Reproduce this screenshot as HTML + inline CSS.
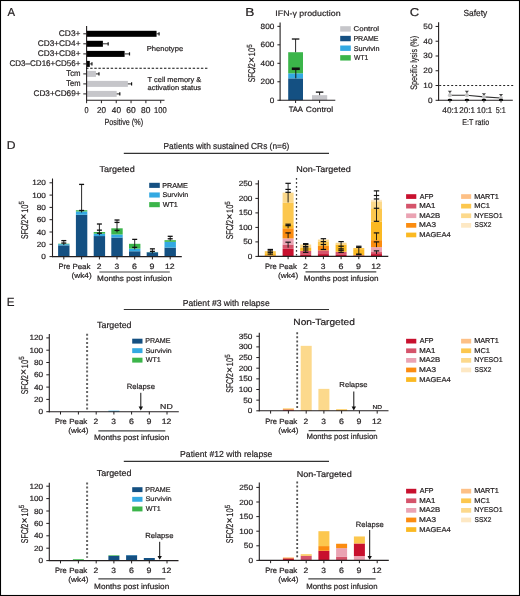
<!DOCTYPE html>
<html><head><meta charset="utf-8"><title>Figure</title>
<style>
html,body{margin:0;padding:0;background:#fff;}
body{width:520px;height:596px;overflow:hidden;}
svg{display:block;font-family:"Liberation Sans", sans-serif;will-change:transform;}
text{stroke:#231f20;stroke-width:0.2px;text-rendering:geometricPrecision;}
</style></head>
<body>
<svg width="520" height="596" viewBox="0 0 520 596">
<rect x="0" y="0" width="520" height="596" fill="#fff"/>
<text x="7.48" y="15.5" font-size="11.63" textLength="7.56" lengthAdjust="spacingAndGlyphs" fill="#231f20">A</text>
<text x="245.17" y="15.6" font-size="11.63" textLength="9.15" lengthAdjust="spacingAndGlyphs" fill="#231f20">B</text>
<text x="409.85" y="16.1" font-size="11.32" textLength="9.45" lengthAdjust="spacingAndGlyphs" fill="#231f20">C</text>
<text x="6.8" y="149.1" font-size="11.34" textLength="8.78" lengthAdjust="spacingAndGlyphs" fill="#231f20">D</text>
<text x="6.85" y="305.9" font-size="11.77" textLength="7.75" lengthAdjust="spacingAndGlyphs" fill="#231f20">E</text>
<rect x="86.6" y="30.8" width="69.95" height="6" fill="#000"/>
<line x1="156.55" y1="33.8" x2="159.07" y2="33.8" stroke="#111" stroke-width="0.9"/>
<line x1="159.07" y1="32.2" x2="159.07" y2="35.4" stroke="#111" stroke-width="1.2"/>
<line x1="83.3" y1="33.8" x2="86.6" y2="33.8" stroke="#231f20" stroke-width="1"/>
<text x="58.78" y="36.3" font-size="8.17" textLength="21.75" lengthAdjust="spacingAndGlyphs" fill="#231f20">CD3+</text>
<rect x="86.6" y="40.8" width="16.3" height="6" fill="#000"/>
<line x1="102.9" y1="43.8" x2="108.16" y2="43.8" stroke="#111" stroke-width="0.9"/>
<line x1="108.16" y1="42.2" x2="108.16" y2="45.4" stroke="#111" stroke-width="1.2"/>
<line x1="83.3" y1="43.8" x2="86.6" y2="43.8" stroke="#231f20" stroke-width="1"/>
<text x="37.69" y="46.3" font-size="8.17" textLength="42.84" lengthAdjust="spacingAndGlyphs" fill="#231f20">CD3+CD4+</text>
<rect x="86.6" y="50.9" width="38.01" height="6" fill="#000"/>
<line x1="124.61" y1="53.9" x2="129.5" y2="53.9" stroke="#111" stroke-width="0.9"/>
<line x1="129.5" y1="52.3" x2="129.5" y2="55.5" stroke="#111" stroke-width="1.2"/>
<line x1="83.3" y1="53.9" x2="86.6" y2="53.9" stroke="#231f20" stroke-width="1"/>
<text x="37.69" y="56.1" font-size="8.17" textLength="42.84" lengthAdjust="spacingAndGlyphs" fill="#231f20">CD3+CD8+</text>
<rect x="86.6" y="60.9" width="3.19" height="6" fill="#000"/>
<line x1="89.79" y1="63.9" x2="91.94" y2="63.9" stroke="#111" stroke-width="0.9"/>
<line x1="91.94" y1="62.3" x2="91.94" y2="65.5" stroke="#111" stroke-width="1.2"/>
<line x1="83.3" y1="63.9" x2="86.6" y2="63.9" stroke="#231f20" stroke-width="1"/>
<text x="9.5" y="66.3" font-size="8.17" textLength="71" lengthAdjust="spacingAndGlyphs" fill="#231f20">CD3–CD16+CD56+</text>
<rect x="86.6" y="70.9" width="9.34" height="6" fill="#c6c6ca"/>
<line x1="95.94" y1="73.9" x2="98.97" y2="73.9" stroke="#111" stroke-width="0.9"/>
<line x1="98.97" y1="72.3" x2="98.97" y2="75.5" stroke="#111" stroke-width="1.2"/>
<line x1="83.3" y1="73.9" x2="86.6" y2="73.9" stroke="#231f20" stroke-width="1"/>
<text x="66.33" y="76.1" font-size="8.28" textLength="14.28" lengthAdjust="spacingAndGlyphs" fill="#231f20">Tcm</text>
<rect x="86.6" y="80.9" width="41.27" height="6" fill="#c6c6ca"/>
<line x1="127.87" y1="83.9" x2="131.58" y2="83.9" stroke="#111" stroke-width="0.9"/>
<line x1="131.58" y1="82.3" x2="131.58" y2="85.5" stroke="#111" stroke-width="1.2"/>
<line x1="83.3" y1="83.9" x2="86.6" y2="83.9" stroke="#231f20" stroke-width="1"/>
<text x="66.33" y="86.1" font-size="8.28" textLength="14.26" lengthAdjust="spacingAndGlyphs" fill="#231f20">Tem</text>
<rect x="86.6" y="90.9" width="30.08" height="6" fill="#c6c6ca"/>
<line x1="116.68" y1="93.9" x2="119.8" y2="93.9" stroke="#111" stroke-width="0.9"/>
<line x1="119.8" y1="92.3" x2="119.8" y2="95.5" stroke="#111" stroke-width="1.2"/>
<line x1="83.3" y1="93.9" x2="86.6" y2="93.9" stroke="#231f20" stroke-width="1"/>
<text x="33.49" y="96" font-size="8.17" textLength="47.01" lengthAdjust="spacingAndGlyphs" fill="#231f20">CD3+CD69+</text>
<line x1="86.6" y1="26" x2="86.6" y2="100.8" stroke="#231f20" stroke-width="1.1"/>
<line x1="86.1" y1="100.3" x2="164.5" y2="100.3" stroke="#231f20" stroke-width="1.1"/>
<line x1="86.6" y1="100.3" x2="86.6" y2="103.2" stroke="#231f20" stroke-width="1"/>
<text x="84.51" y="112.5" font-size="8.45" textLength="4.07" lengthAdjust="spacingAndGlyphs" fill="#231f20">0</text>
<line x1="101.42" y1="100.3" x2="101.42" y2="103.2" stroke="#231f20" stroke-width="1"/>
<text x="96.89" y="112.5" font-size="8.45" textLength="9.02" lengthAdjust="spacingAndGlyphs" fill="#231f20">20</text>
<line x1="116.24" y1="100.3" x2="116.24" y2="103.2" stroke="#231f20" stroke-width="1"/>
<text x="111.82" y="112.5" font-size="8.45" textLength="9.2" lengthAdjust="spacingAndGlyphs" fill="#231f20">40</text>
<line x1="131.06" y1="100.3" x2="131.06" y2="103.2" stroke="#231f20" stroke-width="1"/>
<text x="126.28" y="112.5" font-size="8.45" textLength="9.45" lengthAdjust="spacingAndGlyphs" fill="#231f20">60</text>
<line x1="145.88" y1="100.3" x2="145.88" y2="103.2" stroke="#231f20" stroke-width="1"/>
<text x="141.03" y="112.5" font-size="8.45" textLength="9.4" lengthAdjust="spacingAndGlyphs" fill="#231f20">80</text>
<line x1="160.7" y1="100.3" x2="160.7" y2="103.2" stroke="#231f20" stroke-width="1"/>
<text x="154.12" y="112.5" font-size="8.45" textLength="12.67" lengthAdjust="spacingAndGlyphs" fill="#231f20">100</text>
<text x="104.51" y="124.6" font-size="8.84" textLength="38.54" lengthAdjust="spacingAndGlyphs" fill="#231f20">Positive (%)</text>
<text x="146.78" y="50.5" font-size="7.18" textLength="36.36" lengthAdjust="spacingAndGlyphs" fill="#231f20">Phenotype</text>
<text x="147.64" y="82.1" font-size="7.18" textLength="53.68" lengthAdjust="spacingAndGlyphs" fill="#231f20">T cell memory &amp;</text>
<text x="147.49" y="90.2" font-size="7.18" textLength="53.59" lengthAdjust="spacingAndGlyphs" fill="#231f20">activation status</text>
<line x1="86.1" y1="68.3" x2="207.8" y2="68.3" stroke="#111" stroke-width="1.1" stroke-dasharray="2.4 1.7"/>
<text x="275.39" y="15.7" font-size="8.01" textLength="65.17" lengthAdjust="spacingAndGlyphs" fill="#231f20">IFN-γ production</text>
<line x1="277.4" y1="100.25" x2="280.1" y2="100.25" stroke="#231f20" stroke-width="1"/>
<text x="269.75" y="102.75" font-size="7.6" textLength="4.56" lengthAdjust="spacingAndGlyphs" fill="#231f20">0</text>
<line x1="277.4" y1="81.78" x2="280.1" y2="81.78" stroke="#231f20" stroke-width="1"/>
<text x="260.62" y="84.28" font-size="7.6" textLength="13.69" lengthAdjust="spacingAndGlyphs" fill="#231f20">200</text>
<line x1="277.4" y1="63.31" x2="280.1" y2="63.31" stroke="#231f20" stroke-width="1"/>
<text x="260.62" y="65.81" font-size="7.6" textLength="13.69" lengthAdjust="spacingAndGlyphs" fill="#231f20">400</text>
<line x1="277.4" y1="44.84" x2="280.1" y2="44.84" stroke="#231f20" stroke-width="1"/>
<text x="260.62" y="47.34" font-size="7.6" textLength="13.69" lengthAdjust="spacingAndGlyphs" fill="#231f20">600</text>
<line x1="277.4" y1="26.37" x2="280.1" y2="26.37" stroke="#231f20" stroke-width="1"/>
<text x="260.62" y="28.87" font-size="7.6" textLength="13.69" lengthAdjust="spacingAndGlyphs" fill="#231f20">800</text>
<text transform="translate(255 82) rotate(-90)" x="-0.31" y="0" font-size="9.8" textLength="19.15" lengthAdjust="spacingAndGlyphs" fill="#231f20">SFC<tspan stroke-width="0.5">/</tspan>2</text>
<text transform="translate(254.7 62.3) rotate(-90)" x="-0.74" y="0" font-size="10.6" textLength="6.18" lengthAdjust="spacingAndGlyphs" fill="#231f20">×</text>
<text transform="translate(255 55.6) rotate(-90)" x="-0.56" y="0" font-size="9.6" textLength="8.25" lengthAdjust="spacingAndGlyphs" fill="#231f20">10</text>
<text transform="translate(251.5 47.6) rotate(-90)" x="-0.25" y="0" font-size="7.4" textLength="3.52" lengthAdjust="spacingAndGlyphs" fill="#231f20">5</text>
<rect x="288.2" y="78.36" width="14.8" height="21.89" fill="#145082"/>
<rect x="288.2" y="73.28" width="14.8" height="5.08" fill="#33a9e2"/>
<rect x="288.2" y="52.23" width="14.8" height="21.06" fill="#3bb54a"/>
<line x1="295.6" y1="39.02" x2="295.6" y2="52.23" stroke="#111" stroke-width="0.9"/>
<line x1="291.85" y1="39.02" x2="299.35" y2="39.02" stroke="#111" stroke-width="1.3"/>
<line x1="295.8" y1="68.76" x2="295.8" y2="78.36" stroke="#111" stroke-width="1"/>
<line x1="291.8" y1="68.76" x2="299.8" y2="68.76" stroke="#111" stroke-width="2.6"/>
<rect x="312" y="95.17" width="15.2" height="5.08" fill="#c6c6ca"/>
<line x1="319.6" y1="92.12" x2="319.6" y2="95.17" stroke="#111" stroke-width="0.9"/>
<line x1="315.85" y1="92.12" x2="323.35" y2="92.12" stroke="#111" stroke-width="1.3"/>
<line x1="280.1" y1="22.5" x2="280.1" y2="100.75" stroke="#231f20" stroke-width="1.1"/>
<line x1="279.6" y1="100.25" x2="335.3" y2="100.25" stroke="#231f20" stroke-width="1.1"/>
<line x1="295.6" y1="100.25" x2="295.6" y2="103" stroke="#231f20" stroke-width="1"/>
<line x1="319.6" y1="100.25" x2="319.6" y2="103" stroke="#231f20" stroke-width="1"/>
<text x="288.63" y="112.3" font-size="7.85" textLength="14.39" lengthAdjust="spacingAndGlyphs" fill="#231f20">TAA</text>
<text x="305.88" y="112.3" font-size="7.73" textLength="27.28" lengthAdjust="spacingAndGlyphs" fill="#231f20">Control</text>
<rect x="340.2" y="26.2" width="10.6" height="5.4" fill="#c6c6ca"/>
<text x="353.61" y="31.2" font-size="6.91" textLength="25.41" lengthAdjust="spacingAndGlyphs" fill="#231f20">Control</text>
<rect x="340.2" y="35.85" width="10.6" height="5.4" fill="#145082"/>
<text x="353.42" y="40.85" font-size="7.27" textLength="25.08" lengthAdjust="spacingAndGlyphs" fill="#231f20">PRAME</text>
<rect x="340.2" y="45.5" width="10.6" height="5.4" fill="#33a9e2"/>
<text x="353.67" y="50.5" font-size="6.91" textLength="25.8" lengthAdjust="spacingAndGlyphs" fill="#231f20">Survivin</text>
<rect x="340.2" y="55.15" width="10.6" height="5.4" fill="#3bb54a"/>
<text x="353.97" y="60.15" font-size="7.27" textLength="14.36" lengthAdjust="spacingAndGlyphs" fill="#231f20">WT1</text>
<text x="463.41" y="15.7" font-size="8.84" textLength="23.79" lengthAdjust="spacingAndGlyphs" fill="#231f20">Safety</text>
<line x1="435.6" y1="100.3" x2="438.6" y2="100.3" stroke="#231f20" stroke-width="1"/>
<text x="427.95" y="102.8" font-size="7.6" textLength="4.56" lengthAdjust="spacingAndGlyphs" fill="#231f20">0</text>
<line x1="435.6" y1="85.53" x2="438.6" y2="85.53" stroke="#231f20" stroke-width="1"/>
<text x="423.38" y="88.03" font-size="7.6" textLength="9.13" lengthAdjust="spacingAndGlyphs" fill="#231f20">10</text>
<line x1="435.6" y1="70.76" x2="438.6" y2="70.76" stroke="#231f20" stroke-width="1"/>
<text x="423.38" y="73.26" font-size="7.6" textLength="9.13" lengthAdjust="spacingAndGlyphs" fill="#231f20">20</text>
<line x1="435.6" y1="55.99" x2="438.6" y2="55.99" stroke="#231f20" stroke-width="1"/>
<text x="423.38" y="58.49" font-size="7.6" textLength="9.13" lengthAdjust="spacingAndGlyphs" fill="#231f20">30</text>
<line x1="435.6" y1="41.22" x2="438.6" y2="41.22" stroke="#231f20" stroke-width="1"/>
<text x="423.38" y="43.72" font-size="7.6" textLength="9.13" lengthAdjust="spacingAndGlyphs" fill="#231f20">40</text>
<line x1="435.6" y1="26.45" x2="438.6" y2="26.45" stroke="#231f20" stroke-width="1"/>
<text x="423.38" y="28.95" font-size="7.6" textLength="9.13" lengthAdjust="spacingAndGlyphs" fill="#231f20">50</text>
<text transform="translate(417.4 89.4) rotate(-90)" x="-0.33" y="0" font-size="9.39" textLength="53.77" lengthAdjust="spacingAndGlyphs" fill="#231f20">Specific lysis (%)</text>
<line x1="439.2" y1="85.53" x2="513.5" y2="85.53" stroke="#222" stroke-width="1" stroke-dasharray="2 2"/>
<polyline points="449.9,95.28 466.9,95.28 483.9,96.9 501,97.94" fill="none" stroke="#333" stroke-width="1.1"/>
<line x1="449.9" y1="95.28" x2="449.9" y2="91.29" stroke="#888" stroke-width="0.9"/>
<path d="M447.8 90.69L452 90.69L449.9 92.89Z" fill="#444"/>
<circle cx="449.9" cy="95.28" r="2.0" fill="#c4c4c4"/>
<line x1="466.9" y1="95.28" x2="466.9" y2="91.29" stroke="#888" stroke-width="0.9"/>
<path d="M464.8 90.69L469 90.69L466.9 92.89Z" fill="#444"/>
<circle cx="466.9" cy="95.28" r="2.0" fill="#c4c4c4"/>
<line x1="483.9" y1="96.9" x2="483.9" y2="93.95" stroke="#888" stroke-width="0.9"/>
<path d="M481.8 93.35L486 93.35L483.9 95.55Z" fill="#444"/>
<circle cx="483.9" cy="96.9" r="2.0" fill="#c4c4c4"/>
<line x1="501" y1="97.94" x2="501" y2="94.54" stroke="#888" stroke-width="0.9"/>
<path d="M498.9 93.94L503.1 93.94L501 96.14Z" fill="#444"/>
<circle cx="501" cy="97.94" r="2.0" fill="#c4c4c4"/>
<line x1="438.6" y1="22.2" x2="438.6" y2="100.8" stroke="#231f20" stroke-width="1.1"/>
<line x1="438.1" y1="100.3" x2="512.8" y2="100.3" stroke="#231f20" stroke-width="1.1"/>
<ellipse cx="449.9" cy="100" rx="2.2" ry="1.2" fill="#000"/>
<line x1="449.9" y1="100.3" x2="449.9" y2="102.7" stroke="#555" stroke-width="1"/>
<text x="442.32" y="113.1" font-size="8.31" textLength="16.08" lengthAdjust="spacingAndGlyphs" fill="#231f20">40:1</text>
<ellipse cx="466.9" cy="100" rx="2.2" ry="1.2" fill="#000"/>
<line x1="466.9" y1="100.3" x2="466.9" y2="102.7" stroke="#555" stroke-width="1"/>
<text x="459.3" y="113.1" font-size="8.31" textLength="15.69" lengthAdjust="spacingAndGlyphs" fill="#231f20">20:1</text>
<ellipse cx="483.9" cy="100" rx="2.2" ry="1.2" fill="#000"/>
<line x1="483.9" y1="100.3" x2="483.9" y2="102.7" stroke="#555" stroke-width="1"/>
<text x="476.8" y="113.1" font-size="8.31" textLength="15.49" lengthAdjust="spacingAndGlyphs" fill="#231f20">10:1</text>
<ellipse cx="501" cy="100" rx="2.2" ry="1.2" fill="#000"/>
<line x1="501" y1="100.3" x2="501" y2="102.7" stroke="#555" stroke-width="1"/>
<text x="495.81" y="113.1" font-size="8.43" textLength="9.93" lengthAdjust="spacingAndGlyphs" fill="#231f20">5:1</text>
<text x="462.32" y="124.9" font-size="8.29" textLength="26.79" lengthAdjust="spacingAndGlyphs" fill="#231f20">E:T ratio</text>
<line x1="123.8" y1="153.4" x2="329" y2="153.4" stroke="#333" stroke-width="1.2"/>
<text x="163.52" y="149.2" font-size="8.7" textLength="125.8" lengthAdjust="spacingAndGlyphs" fill="#231f20">Patients with sustained CRs (n=6)</text>
<line x1="123.8" y1="309.5" x2="329" y2="309.5" stroke="#333" stroke-width="1.2"/>
<text x="182.8" y="306.1" font-size="8.7" textLength="86.88" lengthAdjust="spacingAndGlyphs" fill="#231f20">Patient #3 with relapse</text>
<line x1="123.8" y1="461.3" x2="329" y2="461.3" stroke="#333" stroke-width="1.2"/>
<text x="180.09" y="457.3" font-size="8.7" textLength="92.28" lengthAdjust="spacingAndGlyphs" fill="#231f20">Patient #12 with relapse</text>
<line x1="49.5" y1="256.6" x2="52.5" y2="256.6" stroke="#231f20" stroke-width="1"/>
<text x="41.33" y="259.1" font-size="7.5" textLength="4.59" lengthAdjust="spacingAndGlyphs" fill="#231f20">0</text>
<line x1="49.5" y1="244.3" x2="52.5" y2="244.3" stroke="#231f20" stroke-width="1"/>
<text x="36.74" y="246.8" font-size="7.5" textLength="9.18" lengthAdjust="spacingAndGlyphs" fill="#231f20">20</text>
<line x1="49.5" y1="232" x2="52.5" y2="232" stroke="#231f20" stroke-width="1"/>
<text x="36.74" y="234.5" font-size="7.5" textLength="9.18" lengthAdjust="spacingAndGlyphs" fill="#231f20">40</text>
<line x1="49.5" y1="219.7" x2="52.5" y2="219.7" stroke="#231f20" stroke-width="1"/>
<text x="36.74" y="222.2" font-size="7.5" textLength="9.18" lengthAdjust="spacingAndGlyphs" fill="#231f20">60</text>
<line x1="49.5" y1="207.4" x2="52.5" y2="207.4" stroke="#231f20" stroke-width="1"/>
<text x="36.74" y="209.9" font-size="7.5" textLength="9.18" lengthAdjust="spacingAndGlyphs" fill="#231f20">80</text>
<line x1="49.5" y1="195.1" x2="52.5" y2="195.1" stroke="#231f20" stroke-width="1"/>
<text x="32.15" y="197.6" font-size="7.5" textLength="13.76" lengthAdjust="spacingAndGlyphs" fill="#231f20">100</text>
<line x1="49.5" y1="182.8" x2="52.5" y2="182.8" stroke="#231f20" stroke-width="1"/>
<text x="32.15" y="185.3" font-size="7.5" textLength="13.76" lengthAdjust="spacingAndGlyphs" fill="#231f20">120</text>
<rect x="58.1" y="245.35" width="11.4" height="11.25" fill="#145082"/>
<rect x="58.1" y="244.18" width="11.4" height="1.17" fill="#33a9e2"/>
<rect x="58.1" y="243.69" width="11.4" height="0.49" fill="#3bb54a"/>
<rect x="75.9" y="214.78" width="11.4" height="41.82" fill="#145082"/>
<rect x="75.9" y="211.46" width="11.4" height="3.32" fill="#33a9e2"/>
<rect x="75.9" y="210.23" width="11.4" height="1.23" fill="#3bb54a"/>
<rect x="93.7" y="236.06" width="11.4" height="20.54" fill="#145082"/>
<rect x="93.7" y="233.66" width="11.4" height="2.4" fill="#33a9e2"/>
<rect x="93.7" y="232" width="11.4" height="1.66" fill="#3bb54a"/>
<rect x="111.3" y="237.54" width="11.4" height="19.07" fill="#145082"/>
<rect x="111.3" y="234.46" width="11.4" height="3.08" fill="#33a9e2"/>
<rect x="111.3" y="228.31" width="11.4" height="6.15" fill="#3bb54a"/>
<rect x="129" y="251.25" width="11.4" height="5.35" fill="#145082"/>
<rect x="129" y="248.61" width="11.4" height="2.64" fill="#33a9e2"/>
<rect x="129" y="243.81" width="11.4" height="4.8" fill="#3bb54a"/>
<rect x="146.7" y="252.3" width="11.4" height="4.3" fill="#145082"/>
<rect x="146.7" y="252.11" width="11.4" height="0.18" fill="#33a9e2"/>
<rect x="146.7" y="251.99" width="11.4" height="0.12" fill="#3bb54a"/>
<rect x="164.5" y="247.62" width="11.4" height="8.98" fill="#145082"/>
<rect x="164.5" y="241.84" width="11.4" height="5.78" fill="#33a9e2"/>
<rect x="164.5" y="240.18" width="11.4" height="1.66" fill="#3bb54a"/>
<line x1="52.5" y1="178.5" x2="52.5" y2="257.1" stroke="#231f20" stroke-width="1.1"/>
<line x1="52" y1="256.6" x2="181.8" y2="256.6" stroke="#231f20" stroke-width="1.1"/>
<line x1="63.8" y1="256.6" x2="63.8" y2="259.4" stroke="#231f20" stroke-width="1"/>
<line x1="81.6" y1="256.6" x2="81.6" y2="259.4" stroke="#231f20" stroke-width="1"/>
<line x1="99.4" y1="256.6" x2="99.4" y2="259.4" stroke="#231f20" stroke-width="1"/>
<line x1="117" y1="256.6" x2="117" y2="259.4" stroke="#231f20" stroke-width="1"/>
<line x1="134.7" y1="256.6" x2="134.7" y2="259.4" stroke="#231f20" stroke-width="1"/>
<line x1="152.4" y1="256.6" x2="152.4" y2="259.4" stroke="#231f20" stroke-width="1"/>
<line x1="170.2" y1="256.6" x2="170.2" y2="259.4" stroke="#231f20" stroke-width="1"/>
<line x1="63.8" y1="240.61" x2="63.8" y2="245.07" stroke="#111" stroke-width="0.9"/>
<line x1="61.3" y1="240.61" x2="66.3" y2="240.61" stroke="#111" stroke-width="1.3"/>
<line x1="61.3" y1="243.07" x2="66.3" y2="243.07" stroke="#111" stroke-width="1.3"/>
<line x1="81.6" y1="184.4" x2="81.6" y2="212.48" stroke="#111" stroke-width="0.9"/>
<line x1="79.1" y1="184.4" x2="84.1" y2="184.4" stroke="#111" stroke-width="1.3"/>
<line x1="79.1" y1="210.48" x2="84.1" y2="210.48" stroke="#111" stroke-width="1.3"/>
<line x1="99.4" y1="224.01" x2="99.4" y2="235.23" stroke="#111" stroke-width="0.9"/>
<line x1="96.9" y1="224.01" x2="101.9" y2="224.01" stroke="#111" stroke-width="1.3"/>
<line x1="96.9" y1="230.16" x2="101.9" y2="230.16" stroke="#111" stroke-width="1.3"/>
<line x1="96.9" y1="233.23" x2="101.9" y2="233.23" stroke="#111" stroke-width="1.3"/>
<line x1="117" y1="220.01" x2="117" y2="232.4" stroke="#111" stroke-width="0.9"/>
<line x1="114.5" y1="220.01" x2="119.5" y2="220.01" stroke="#111" stroke-width="1.3"/>
<line x1="114.5" y1="222.41" x2="119.5" y2="222.41" stroke="#111" stroke-width="1.3"/>
<line x1="114.5" y1="230.4" x2="119.5" y2="230.4" stroke="#111" stroke-width="1.3"/>
<line x1="134.7" y1="239.38" x2="134.7" y2="249.38" stroke="#111" stroke-width="0.9"/>
<line x1="132.2" y1="239.38" x2="137.2" y2="239.38" stroke="#111" stroke-width="1.3"/>
<line x1="132.2" y1="247.38" x2="137.2" y2="247.38" stroke="#111" stroke-width="1.3"/>
<line x1="152.4" y1="248.85" x2="152.4" y2="253.37" stroke="#111" stroke-width="0.9"/>
<line x1="149.9" y1="248.85" x2="154.9" y2="248.85" stroke="#111" stroke-width="1.3"/>
<line x1="149.9" y1="251.37" x2="154.9" y2="251.37" stroke="#111" stroke-width="1.3"/>
<line x1="170.2" y1="236.31" x2="170.2" y2="240.77" stroke="#111" stroke-width="0.9"/>
<line x1="167.7" y1="236.31" x2="172.7" y2="236.31" stroke="#111" stroke-width="1.3"/>
<line x1="167.7" y1="238.77" x2="172.7" y2="238.77" stroke="#111" stroke-width="1.3"/>
<text transform="translate(27.7 238.8) rotate(-90)" x="-0.31" y="0" font-size="9.8" textLength="19.36" lengthAdjust="spacingAndGlyphs" fill="#231f20">SFC<tspan stroke-width="0.5">/</tspan>2</text>
<text transform="translate(27.4 218.9) rotate(-90)" x="-0.74" y="0" font-size="10.6" textLength="6.18" lengthAdjust="spacingAndGlyphs" fill="#231f20">×</text>
<text transform="translate(27.7 212.2) rotate(-90)" x="-0.56" y="0" font-size="9.6" textLength="8.25" lengthAdjust="spacingAndGlyphs" fill="#231f20">10</text>
<text transform="translate(24.2 204.2) rotate(-90)" x="-0.25" y="0" font-size="7.4" textLength="3.52" lengthAdjust="spacingAndGlyphs" fill="#231f20">5</text>
<text x="99.5" y="172.2" font-size="8.56" textLength="35.17" lengthAdjust="spacingAndGlyphs" fill="#231f20">Targeted</text>
<rect x="149.2" y="182.8" width="10.6" height="5.1" fill="#145082"/>
<text x="162.21" y="187.6" font-size="7.12" textLength="25.59" lengthAdjust="spacingAndGlyphs" fill="#231f20">PRAME</text>
<rect x="149.2" y="192.45" width="10.6" height="5.1" fill="#33a9e2"/>
<text x="162.46" y="197.25" font-size="6.77" textLength="25.91" lengthAdjust="spacingAndGlyphs" fill="#231f20">Survivin</text>
<rect x="149.2" y="202.1" width="10.6" height="5.1" fill="#3bb54a"/>
<text x="162.77" y="206.9" font-size="7.12" textLength="15.08" lengthAdjust="spacingAndGlyphs" fill="#231f20">WT1</text>
<text x="58.38" y="268.9" font-size="7.85" textLength="11.75" lengthAdjust="spacingAndGlyphs" fill="#231f20">Pre</text>
<text x="72.45" y="268.9" font-size="7.46" textLength="18.04" lengthAdjust="spacingAndGlyphs" fill="#231f20">Peak</text>
<text x="96.72" y="268.9" font-size="7.74" textLength="4.76" lengthAdjust="spacingAndGlyphs" fill="#231f20">2</text>
<text x="114.48" y="268.9" font-size="7.74" textLength="4.69" lengthAdjust="spacingAndGlyphs" fill="#231f20">3</text>
<text x="132.01" y="268.9" font-size="7.74" textLength="4.94" lengthAdjust="spacingAndGlyphs" fill="#231f20">6</text>
<text x="149.54" y="268.9" font-size="7.74" textLength="4.94" lengthAdjust="spacingAndGlyphs" fill="#231f20">9</text>
<text x="164.94" y="268.9" font-size="7.74" textLength="9.7" lengthAdjust="spacingAndGlyphs" fill="#231f20">12</text>
<text x="71.49" y="277.8" font-size="7.46" textLength="20.23" lengthAdjust="spacingAndGlyphs" fill="#231f20">(wk4)</text>
<line x1="99.4" y1="272" x2="169.8" y2="272" stroke="#444" stroke-width="1.2"/>
<text x="97.13" y="281.4" font-size="7.73" textLength="74.79" lengthAdjust="spacingAndGlyphs" fill="#231f20">Months post infusion</text>
<line x1="255.4" y1="256.4" x2="258.4" y2="256.4" stroke="#231f20" stroke-width="1"/>
<text x="247.83" y="258.9" font-size="7.5" textLength="4.59" lengthAdjust="spacingAndGlyphs" fill="#231f20">0</text>
<line x1="255.4" y1="241.9" x2="258.4" y2="241.9" stroke="#231f20" stroke-width="1"/>
<text x="243.24" y="244.4" font-size="7.5" textLength="9.18" lengthAdjust="spacingAndGlyphs" fill="#231f20">50</text>
<line x1="255.4" y1="227.4" x2="258.4" y2="227.4" stroke="#231f20" stroke-width="1"/>
<text x="238.65" y="229.9" font-size="7.5" textLength="13.76" lengthAdjust="spacingAndGlyphs" fill="#231f20">100</text>
<line x1="255.4" y1="212.9" x2="258.4" y2="212.9" stroke="#231f20" stroke-width="1"/>
<text x="238.65" y="215.4" font-size="7.5" textLength="13.76" lengthAdjust="spacingAndGlyphs" fill="#231f20">150</text>
<line x1="255.4" y1="198.4" x2="258.4" y2="198.4" stroke="#231f20" stroke-width="1"/>
<text x="238.65" y="200.9" font-size="7.5" textLength="13.76" lengthAdjust="spacingAndGlyphs" fill="#231f20">200</text>
<line x1="255.4" y1="183.9" x2="258.4" y2="183.9" stroke="#231f20" stroke-width="1"/>
<text x="238.65" y="186.4" font-size="7.5" textLength="13.76" lengthAdjust="spacingAndGlyphs" fill="#231f20">250</text>
<rect x="264.8" y="255.67" width="11" height="0.72" fill="#c8102e"/>
<rect x="264.8" y="253.21" width="11" height="2.46" fill="#fbb922"/>
<rect x="264.8" y="251.18" width="11" height="2.03" fill="#fcc74e"/>
<rect x="282.6" y="248.86" width="11" height="7.54" fill="#c8102e"/>
<rect x="282.6" y="244.51" width="11" height="4.35" fill="#d5546b"/>
<rect x="282.6" y="238.42" width="11" height="6.09" fill="#eaa3b3"/>
<rect x="282.6" y="228.27" width="11" height="10.15" fill="#fb8c10"/>
<rect x="282.6" y="225.08" width="11" height="3.19" fill="#fbb922"/>
<rect x="282.6" y="202.46" width="11" height="22.62" fill="#fcc74e"/>
<rect x="282.6" y="192.6" width="11" height="9.86" fill="#fcd98c"/>
<rect x="300.2" y="254.95" width="11" height="1.45" fill="#c8102e"/>
<rect x="300.2" y="250.89" width="11" height="4.06" fill="#d5546b"/>
<rect x="300.2" y="247.41" width="11" height="3.48" fill="#fbb922"/>
<rect x="300.2" y="244.51" width="11" height="2.9" fill="#fcd98c"/>
<rect x="317.9" y="254.08" width="11" height="2.32" fill="#c8102e"/>
<rect x="317.9" y="250.31" width="11" height="3.77" fill="#d5546b"/>
<rect x="317.9" y="245.96" width="11" height="4.35" fill="#fb8c10"/>
<rect x="317.9" y="241.9" width="11" height="4.06" fill="#fcc74e"/>
<rect x="317.9" y="239.58" width="11" height="2.32" fill="#fcd98c"/>
<rect x="335.6" y="254.95" width="11" height="1.45" fill="#c8102e"/>
<rect x="335.6" y="251.76" width="11" height="3.19" fill="#d5546b"/>
<rect x="335.6" y="244.51" width="11" height="7.25" fill="#fbb922"/>
<rect x="335.6" y="242.77" width="11" height="1.74" fill="#fcd98c"/>
<rect x="353.3" y="255.53" width="11" height="0.87" fill="#c8102e"/>
<rect x="353.3" y="255.24" width="11" height="0.29" fill="#d5546b"/>
<rect x="353.3" y="249.15" width="11" height="6.09" fill="#fbb922"/>
<rect x="353.3" y="247.99" width="11" height="1.16" fill="#fcc74e"/>
<rect x="371" y="254.08" width="11" height="2.32" fill="#c8102e"/>
<rect x="371" y="252.05" width="11" height="2.03" fill="#d5546b"/>
<rect x="371" y="247.12" width="11" height="4.93" fill="#eaa3b3"/>
<rect x="371" y="240.16" width="11" height="6.96" fill="#fb8c10"/>
<rect x="371" y="221.6" width="11" height="18.56" fill="#fbb922"/>
<rect x="371" y="208.26" width="11" height="13.34" fill="#fcc74e"/>
<rect x="371" y="201.3" width="11" height="6.96" fill="#fcd98c"/>
<rect x="371" y="199.85" width="11" height="1.45" fill="#fde8c4"/>
<line x1="296.5" y1="178" x2="296.5" y2="255.5" stroke="#3a3a3a" stroke-width="1.25" stroke-dasharray="1.8 2.2"/>
<line x1="258.4" y1="180.2" x2="258.4" y2="256.9" stroke="#231f20" stroke-width="1.1"/>
<line x1="257.9" y1="256.4" x2="388.3" y2="256.4" stroke="#231f20" stroke-width="1.1"/>
<line x1="270.3" y1="256.4" x2="270.3" y2="259.2" stroke="#231f20" stroke-width="1"/>
<line x1="288.1" y1="256.4" x2="288.1" y2="259.2" stroke="#231f20" stroke-width="1"/>
<line x1="305.7" y1="256.4" x2="305.7" y2="259.2" stroke="#231f20" stroke-width="1"/>
<line x1="323.4" y1="256.4" x2="323.4" y2="259.2" stroke="#231f20" stroke-width="1"/>
<line x1="341.1" y1="256.4" x2="341.1" y2="259.2" stroke="#231f20" stroke-width="1"/>
<line x1="358.8" y1="256.4" x2="358.8" y2="259.2" stroke="#231f20" stroke-width="1"/>
<line x1="376.5" y1="256.4" x2="376.5" y2="259.2" stroke="#231f20" stroke-width="1"/>
<line x1="270.3" y1="249.44" x2="270.3" y2="254.66" stroke="#111" stroke-width="0.9"/>
<line x1="267.6" y1="249.44" x2="273" y2="249.44" stroke="#111" stroke-width="1.2"/>
<line x1="267.6" y1="250.89" x2="273" y2="250.89" stroke="#111" stroke-width="1.2"/>
<line x1="267.6" y1="252.34" x2="273" y2="252.34" stroke="#111" stroke-width="1.2"/>
<line x1="267.6" y1="254.08" x2="273" y2="254.08" stroke="#111" stroke-width="1.2"/>
<line x1="288.1" y1="183.32" x2="288.1" y2="202.46" stroke="#111" stroke-width="0.9"/>
<line x1="285.4" y1="183.32" x2="290.8" y2="183.32" stroke="#111" stroke-width="1.2"/>
<line x1="285.4" y1="189.41" x2="290.8" y2="189.41" stroke="#111" stroke-width="1.2"/>
<line x1="285.4" y1="192.31" x2="290.8" y2="192.31" stroke="#111" stroke-width="1.2"/>
<line x1="288.1" y1="224.21" x2="288.1" y2="228.27" stroke="#111" stroke-width="0.9"/>
<line x1="285.4" y1="224.21" x2="290.8" y2="224.21" stroke="#111" stroke-width="1.2"/>
<line x1="285.4" y1="225.66" x2="290.8" y2="225.66" stroke="#111" stroke-width="1.2"/>
<line x1="288.1" y1="232.91" x2="288.1" y2="238.13" stroke="#111" stroke-width="0.9"/>
<line x1="285.4" y1="232.91" x2="290.8" y2="232.91" stroke="#111" stroke-width="1.2"/>
<line x1="288.1" y1="242.19" x2="288.1" y2="247.7" stroke="#111" stroke-width="0.9"/>
<line x1="285.4" y1="242.19" x2="290.8" y2="242.19" stroke="#111" stroke-width="1.2"/>
<line x1="305.7" y1="243.64" x2="305.7" y2="252.34" stroke="#111" stroke-width="0.9"/>
<line x1="303" y1="243.64" x2="308.4" y2="243.64" stroke="#111" stroke-width="1.2"/>
<line x1="303" y1="244.51" x2="308.4" y2="244.51" stroke="#111" stroke-width="1.2"/>
<line x1="303" y1="246.54" x2="308.4" y2="246.54" stroke="#111" stroke-width="1.2"/>
<line x1="303" y1="247.99" x2="308.4" y2="247.99" stroke="#111" stroke-width="1.2"/>
<line x1="303" y1="250.02" x2="308.4" y2="250.02" stroke="#111" stroke-width="1.2"/>
<line x1="303" y1="252.34" x2="308.4" y2="252.34" stroke="#111" stroke-width="1.2"/>
<line x1="323.4" y1="238.71" x2="323.4" y2="249.44" stroke="#111" stroke-width="0.9"/>
<line x1="320.7" y1="238.71" x2="326.1" y2="238.71" stroke="#111" stroke-width="1.2"/>
<line x1="320.7" y1="241.61" x2="326.1" y2="241.61" stroke="#111" stroke-width="1.2"/>
<line x1="320.7" y1="244.51" x2="326.1" y2="244.51" stroke="#111" stroke-width="1.2"/>
<line x1="320.7" y1="249.44" x2="326.1" y2="249.44" stroke="#111" stroke-width="1.2"/>
<line x1="341.1" y1="241.61" x2="341.1" y2="252.34" stroke="#111" stroke-width="0.9"/>
<line x1="338.4" y1="241.61" x2="343.8" y2="241.61" stroke="#111" stroke-width="1.2"/>
<line x1="338.4" y1="246.25" x2="343.8" y2="246.25" stroke="#111" stroke-width="1.2"/>
<line x1="338.4" y1="248.86" x2="343.8" y2="248.86" stroke="#111" stroke-width="1.2"/>
<line x1="338.4" y1="250.31" x2="343.8" y2="250.31" stroke="#111" stroke-width="1.2"/>
<line x1="338.4" y1="252.34" x2="343.8" y2="252.34" stroke="#111" stroke-width="1.2"/>
<line x1="358.8" y1="246.25" x2="358.8" y2="254.66" stroke="#111" stroke-width="0.9"/>
<line x1="356.1" y1="246.25" x2="361.5" y2="246.25" stroke="#111" stroke-width="1.2"/>
<line x1="356.1" y1="247.41" x2="361.5" y2="247.41" stroke="#111" stroke-width="1.2"/>
<line x1="356.1" y1="254.08" x2="361.5" y2="254.08" stroke="#111" stroke-width="1.2"/>
<line x1="356.1" y1="254.66" x2="361.5" y2="254.66" stroke="#111" stroke-width="1.2"/>
<line x1="376.5" y1="190.86" x2="376.5" y2="221.31" stroke="#111" stroke-width="0.9"/>
<line x1="373.8" y1="190.86" x2="379.2" y2="190.86" stroke="#111" stroke-width="1.2"/>
<line x1="373.8" y1="195.5" x2="379.2" y2="195.5" stroke="#111" stroke-width="1.2"/>
<line x1="373.8" y1="198.98" x2="379.2" y2="198.98" stroke="#111" stroke-width="1.2"/>
<line x1="373.8" y1="208.26" x2="379.2" y2="208.26" stroke="#111" stroke-width="1.2"/>
<line x1="373.8" y1="221.31" x2="379.2" y2="221.31" stroke="#111" stroke-width="1.2"/>
<line x1="376.5" y1="232.91" x2="376.5" y2="240.16" stroke="#111" stroke-width="0.9"/>
<line x1="373.8" y1="232.91" x2="379.2" y2="232.91" stroke="#111" stroke-width="1.2"/>
<line x1="376.5" y1="241.9" x2="376.5" y2="247.12" stroke="#111" stroke-width="0.9"/>
<line x1="373.8" y1="241.9" x2="379.2" y2="241.9" stroke="#111" stroke-width="1.2"/>
<line x1="376.5" y1="250.89" x2="376.5" y2="254.08" stroke="#111" stroke-width="0.9"/>
<line x1="373.8" y1="250.89" x2="379.2" y2="250.89" stroke="#111" stroke-width="1.2"/>
<text transform="translate(233.3 239) rotate(-90)" x="-0.31" y="0" font-size="9.8" textLength="19.36" lengthAdjust="spacingAndGlyphs" fill="#231f20">SFC<tspan stroke-width="0.5">/</tspan>2</text>
<text transform="translate(233 219.1) rotate(-90)" x="-0.74" y="0" font-size="10.6" textLength="6.18" lengthAdjust="spacingAndGlyphs" fill="#231f20">×</text>
<text transform="translate(233.3 212.4) rotate(-90)" x="-0.56" y="0" font-size="9.6" textLength="8.25" lengthAdjust="spacingAndGlyphs" fill="#231f20">10</text>
<text transform="translate(229.8 204.4) rotate(-90)" x="-0.25" y="0" font-size="7.4" textLength="3.52" lengthAdjust="spacingAndGlyphs" fill="#231f20">5</text>
<text x="296.16" y="172.3" font-size="8.29" textLength="54.73" lengthAdjust="spacingAndGlyphs" fill="#231f20">Non-Targeted</text>
<text x="264.88" y="268.8" font-size="7.85" textLength="11.75" lengthAdjust="spacingAndGlyphs" fill="#231f20">Pre</text>
<text x="278.95" y="268.8" font-size="7.46" textLength="18.04" lengthAdjust="spacingAndGlyphs" fill="#231f20">Peak</text>
<text x="303.02" y="268.8" font-size="7.74" textLength="4.76" lengthAdjust="spacingAndGlyphs" fill="#231f20">2</text>
<text x="320.88" y="268.8" font-size="7.74" textLength="4.69" lengthAdjust="spacingAndGlyphs" fill="#231f20">3</text>
<text x="338.41" y="268.8" font-size="7.74" textLength="4.94" lengthAdjust="spacingAndGlyphs" fill="#231f20">6</text>
<text x="355.94" y="268.8" font-size="7.74" textLength="4.94" lengthAdjust="spacingAndGlyphs" fill="#231f20">9</text>
<text x="371.24" y="268.8" font-size="7.74" textLength="9.7" lengthAdjust="spacingAndGlyphs" fill="#231f20">12</text>
<text x="277.99" y="277.6" font-size="7.46" textLength="20.23" lengthAdjust="spacingAndGlyphs" fill="#231f20">(wk4)</text>
<line x1="305.5" y1="271.8" x2="376.3" y2="271.8" stroke="#444" stroke-width="1.2"/>
<text x="303.83" y="280.8" font-size="7.73" textLength="74.79" lengthAdjust="spacingAndGlyphs" fill="#231f20">Months post infusion</text>
<rect x="406.1" y="194.2" width="10.2" height="4.7" fill="#c8102e"/>
<text x="419.79" y="198.5" font-size="7.12" textLength="13.79" lengthAdjust="spacingAndGlyphs" fill="#231f20">AFP</text>
<rect x="406.1" y="203.8" width="10.2" height="4.7" fill="#d5546b"/>
<text x="419.16" y="208.1" font-size="7.12" textLength="16.12" lengthAdjust="spacingAndGlyphs" fill="#231f20">MA1</text>
<rect x="406.1" y="213.4" width="10.2" height="4.7" fill="#eaa3b3"/>
<text x="419.16" y="217.7" font-size="7.02" textLength="21.15" lengthAdjust="spacingAndGlyphs" fill="#231f20">MA2B</text>
<rect x="406.1" y="223" width="10.2" height="4.7" fill="#fb8c10"/>
<text x="419.12" y="227.3" font-size="7.02" textLength="16.94" lengthAdjust="spacingAndGlyphs" fill="#231f20">MA3</text>
<rect x="406.1" y="232.6" width="10.2" height="4.7" fill="#fbb922"/>
<text x="419.18" y="236.9" font-size="7.02" textLength="31.44" lengthAdjust="spacingAndGlyphs" fill="#231f20">MAGEA4</text>
<rect x="461.1" y="194.2" width="10.1" height="4.7" fill="#fdc086"/>
<text x="474.2" y="198.5" font-size="7.12" textLength="24.55" lengthAdjust="spacingAndGlyphs" fill="#231f20">MART1</text>
<rect x="461.1" y="203.8" width="10.1" height="4.7" fill="#fcc74e"/>
<text x="474.18" y="208.1" font-size="7.02" textLength="15.87" lengthAdjust="spacingAndGlyphs" fill="#231f20">MC1</text>
<rect x="461.1" y="213.4" width="10.1" height="4.7" fill="#fcd98c"/>
<text x="474.23" y="217.7" font-size="7.02" textLength="28.3" lengthAdjust="spacingAndGlyphs" fill="#231f20">NYESO1</text>
<rect x="461.1" y="223" width="10.1" height="4.7" fill="#fde8c4"/>
<text x="474.5" y="227.3" font-size="7.02" textLength="16.83" lengthAdjust="spacingAndGlyphs" fill="#231f20">SSX2</text>
<line x1="46.3" y1="411.7" x2="49.3" y2="411.7" stroke="#231f20" stroke-width="1"/>
<text x="38.63" y="414.2" font-size="7.5" textLength="4.59" lengthAdjust="spacingAndGlyphs" fill="#231f20">0</text>
<line x1="46.3" y1="399.4" x2="49.3" y2="399.4" stroke="#231f20" stroke-width="1"/>
<text x="34.04" y="401.9" font-size="7.5" textLength="9.18" lengthAdjust="spacingAndGlyphs" fill="#231f20">20</text>
<line x1="46.3" y1="387.1" x2="49.3" y2="387.1" stroke="#231f20" stroke-width="1"/>
<text x="34.04" y="389.6" font-size="7.5" textLength="9.18" lengthAdjust="spacingAndGlyphs" fill="#231f20">40</text>
<line x1="46.3" y1="374.8" x2="49.3" y2="374.8" stroke="#231f20" stroke-width="1"/>
<text x="34.04" y="377.3" font-size="7.5" textLength="9.18" lengthAdjust="spacingAndGlyphs" fill="#231f20">60</text>
<line x1="46.3" y1="362.5" x2="49.3" y2="362.5" stroke="#231f20" stroke-width="1"/>
<text x="34.04" y="365" font-size="7.5" textLength="9.18" lengthAdjust="spacingAndGlyphs" fill="#231f20">80</text>
<line x1="46.3" y1="350.2" x2="49.3" y2="350.2" stroke="#231f20" stroke-width="1"/>
<text x="29.45" y="352.7" font-size="7.5" textLength="13.76" lengthAdjust="spacingAndGlyphs" fill="#231f20">100</text>
<line x1="46.3" y1="337.9" x2="49.3" y2="337.9" stroke="#231f20" stroke-width="1"/>
<text x="29.45" y="340.4" font-size="7.5" textLength="13.76" lengthAdjust="spacingAndGlyphs" fill="#231f20">120</text>
<rect x="108.4" y="410.72" width="11" height="0.98" fill="#33a9e2"/>
<line x1="87.1" y1="333.7" x2="87.1" y2="409.5" stroke="#666" stroke-width="2" stroke-dasharray="2 2.1"/>
<line x1="49.3" y1="334" x2="49.3" y2="412.2" stroke="#231f20" stroke-width="1.1"/>
<line x1="48.8" y1="411.7" x2="178.8" y2="411.7" stroke="#231f20" stroke-width="1.1"/>
<line x1="60.5" y1="411.7" x2="60.5" y2="414.5" stroke="#231f20" stroke-width="1"/>
<line x1="78.4" y1="411.7" x2="78.4" y2="414.5" stroke="#231f20" stroke-width="1"/>
<line x1="96.2" y1="411.7" x2="96.2" y2="414.5" stroke="#231f20" stroke-width="1"/>
<line x1="113.9" y1="411.7" x2="113.9" y2="414.5" stroke="#231f20" stroke-width="1"/>
<line x1="131.6" y1="411.7" x2="131.6" y2="414.5" stroke="#231f20" stroke-width="1"/>
<line x1="149.3" y1="411.7" x2="149.3" y2="414.5" stroke="#231f20" stroke-width="1"/>
<line x1="167" y1="411.7" x2="167" y2="414.5" stroke="#231f20" stroke-width="1"/>
<text transform="translate(27.6 393.9) rotate(-90)" x="-0.31" y="0" font-size="9.8" textLength="19.05" lengthAdjust="spacingAndGlyphs" fill="#231f20">SFC<tspan stroke-width="0.5">/</tspan>2</text>
<text transform="translate(27.3 374.3) rotate(-90)" x="-0.74" y="0" font-size="10.6" textLength="6.18" lengthAdjust="spacingAndGlyphs" fill="#231f20">×</text>
<text transform="translate(27.6 367.6) rotate(-90)" x="-0.56" y="0" font-size="9.6" textLength="8.25" lengthAdjust="spacingAndGlyphs" fill="#231f20">10</text>
<text transform="translate(24.1 359.6) rotate(-90)" x="-0.25" y="0" font-size="7.4" textLength="3.52" lengthAdjust="spacingAndGlyphs" fill="#231f20">5</text>
<text x="97" y="327.9" font-size="8.84" textLength="34.56" lengthAdjust="spacingAndGlyphs" fill="#231f20">Targeted</text>
<rect x="132.2" y="338.7" width="10.3" height="4.9" fill="#145082"/>
<text x="145.22" y="343.2" font-size="6.98" textLength="25.28" lengthAdjust="spacingAndGlyphs" fill="#231f20">PRAME</text>
<rect x="132.2" y="348.2" width="10.3" height="4.9" fill="#33a9e2"/>
<text x="145.46" y="352.7" font-size="6.63" textLength="26.22" lengthAdjust="spacingAndGlyphs" fill="#231f20">Survivin</text>
<rect x="132.2" y="357.7" width="10.3" height="4.9" fill="#3bb54a"/>
<text x="145.77" y="362.2" font-size="6.98" textLength="15.08" lengthAdjust="spacingAndGlyphs" fill="#231f20">WT1</text>
<text x="55.08" y="424" font-size="7.85" textLength="11.75" lengthAdjust="spacingAndGlyphs" fill="#231f20">Pre</text>
<text x="69.25" y="424" font-size="7.46" textLength="18.04" lengthAdjust="spacingAndGlyphs" fill="#231f20">Peak</text>
<text x="93.52" y="424" font-size="7.74" textLength="4.76" lengthAdjust="spacingAndGlyphs" fill="#231f20">2</text>
<text x="111.38" y="424" font-size="7.74" textLength="4.69" lengthAdjust="spacingAndGlyphs" fill="#231f20">3</text>
<text x="128.91" y="424" font-size="7.74" textLength="4.94" lengthAdjust="spacingAndGlyphs" fill="#231f20">6</text>
<text x="146.44" y="424" font-size="7.74" textLength="4.94" lengthAdjust="spacingAndGlyphs" fill="#231f20">9</text>
<text x="161.74" y="424" font-size="7.74" textLength="9.7" lengthAdjust="spacingAndGlyphs" fill="#231f20">12</text>
<text x="68.29" y="433.4" font-size="7.46" textLength="20.23" lengthAdjust="spacingAndGlyphs" fill="#231f20">(wk4)</text>
<line x1="98.3" y1="430.9" x2="165.3" y2="430.9" stroke="#444" stroke-width="1.2"/>
<text x="94.13" y="440.1" font-size="7.73" textLength="75.09" lengthAdjust="spacingAndGlyphs" fill="#231f20">Months post infusion</text>
<text x="126.77" y="388.5" font-size="7.6" textLength="28.17" lengthAdjust="spacingAndGlyphs" fill="#231f20">Relapse</text>
<text x="160.08" y="409.2" font-size="7.27" textLength="12.64" lengthAdjust="spacingAndGlyphs" fill="#231f20">ND</text>
<line x1="140.8" y1="392.8" x2="140.8" y2="407.4" stroke="#111" stroke-width="1"/>
<path d="M138.6 406.6L143 406.6L140.8 410.4Z" fill="#111"/>
<line x1="256.3" y1="410.8" x2="259.3" y2="410.8" stroke="#231f20" stroke-width="1"/>
<text x="247.83" y="413.3" font-size="7.5" textLength="4.59" lengthAdjust="spacingAndGlyphs" fill="#231f20">0</text>
<line x1="256.3" y1="400.15" x2="259.3" y2="400.15" stroke="#231f20" stroke-width="1"/>
<text x="243.24" y="402.65" font-size="7.5" textLength="9.18" lengthAdjust="spacingAndGlyphs" fill="#231f20">50</text>
<line x1="256.3" y1="389.5" x2="259.3" y2="389.5" stroke="#231f20" stroke-width="1"/>
<text x="238.65" y="392" font-size="7.5" textLength="13.76" lengthAdjust="spacingAndGlyphs" fill="#231f20">100</text>
<line x1="256.3" y1="378.85" x2="259.3" y2="378.85" stroke="#231f20" stroke-width="1"/>
<text x="238.65" y="381.35" font-size="7.5" textLength="13.76" lengthAdjust="spacingAndGlyphs" fill="#231f20">150</text>
<line x1="256.3" y1="368.2" x2="259.3" y2="368.2" stroke="#231f20" stroke-width="1"/>
<text x="238.65" y="370.7" font-size="7.5" textLength="13.76" lengthAdjust="spacingAndGlyphs" fill="#231f20">200</text>
<line x1="256.3" y1="357.55" x2="259.3" y2="357.55" stroke="#231f20" stroke-width="1"/>
<text x="238.65" y="360.05" font-size="7.5" textLength="13.76" lengthAdjust="spacingAndGlyphs" fill="#231f20">250</text>
<line x1="256.3" y1="346.9" x2="259.3" y2="346.9" stroke="#231f20" stroke-width="1"/>
<text x="238.65" y="349.4" font-size="7.5" textLength="13.76" lengthAdjust="spacingAndGlyphs" fill="#231f20">300</text>
<line x1="256.3" y1="336.25" x2="259.3" y2="336.25" stroke="#231f20" stroke-width="1"/>
<text x="238.65" y="338.75" font-size="7.5" textLength="13.76" lengthAdjust="spacingAndGlyphs" fill="#231f20">350</text>
<rect x="282.9" y="410.16" width="11" height="0.64" fill="#c8102e"/>
<rect x="282.9" y="409.52" width="11" height="0.64" fill="#d5546b"/>
<rect x="282.9" y="409.1" width="11" height="0.43" fill="#fb8c10"/>
<rect x="282.9" y="408.56" width="11" height="0.53" fill="#fbb922"/>
<rect x="300.7" y="410.37" width="11" height="0.43" fill="#fb8c10"/>
<rect x="300.7" y="345.84" width="11" height="64.54" fill="#fcd98c"/>
<rect x="318.4" y="410.48" width="11" height="0.32" fill="#fb8c10"/>
<rect x="318.4" y="388.86" width="11" height="21.62" fill="#fcd98c"/>
<rect x="336.1" y="410.27" width="11" height="0.53" fill="#fb8c10"/>
<rect x="336.1" y="409.42" width="11" height="0.85" fill="#fbb922"/>
<line x1="297.2" y1="332.2" x2="297.2" y2="409" stroke="#555" stroke-width="1.8" stroke-dasharray="2 2.1"/>
<line x1="259.3" y1="332.8" x2="259.3" y2="411.3" stroke="#231f20" stroke-width="1.1"/>
<line x1="258.8" y1="410.8" x2="388.5" y2="410.8" stroke="#231f20" stroke-width="1.1"/>
<line x1="270.6" y1="410.8" x2="270.6" y2="413.6" stroke="#231f20" stroke-width="1"/>
<line x1="288.4" y1="410.8" x2="288.4" y2="413.6" stroke="#231f20" stroke-width="1"/>
<line x1="306.2" y1="410.8" x2="306.2" y2="413.6" stroke="#231f20" stroke-width="1"/>
<line x1="323.9" y1="410.8" x2="323.9" y2="413.6" stroke="#231f20" stroke-width="1"/>
<line x1="341.6" y1="410.8" x2="341.6" y2="413.6" stroke="#231f20" stroke-width="1"/>
<line x1="359.4" y1="410.8" x2="359.4" y2="413.6" stroke="#231f20" stroke-width="1"/>
<line x1="377.2" y1="410.8" x2="377.2" y2="413.6" stroke="#231f20" stroke-width="1"/>
<text transform="translate(233.3 392.4) rotate(-90)" x="-0.32" y="0" font-size="9.8" textLength="19.56" lengthAdjust="spacingAndGlyphs" fill="#231f20">SFC<tspan stroke-width="0.5">/</tspan>2</text>
<text transform="translate(233 372.3) rotate(-90)" x="-0.74" y="0" font-size="10.6" textLength="6.18" lengthAdjust="spacingAndGlyphs" fill="#231f20">×</text>
<text transform="translate(233.3 365.6) rotate(-90)" x="-0.56" y="0" font-size="9.6" textLength="8.25" lengthAdjust="spacingAndGlyphs" fill="#231f20">10</text>
<text transform="translate(229.8 357.6) rotate(-90)" x="-0.25" y="0" font-size="7.4" textLength="3.52" lengthAdjust="spacingAndGlyphs" fill="#231f20">5</text>
<text x="293.37" y="325.1" font-size="9.12" textLength="61.49" lengthAdjust="spacingAndGlyphs" fill="#231f20">Non-Targeted</text>
<text x="265.18" y="424" font-size="7.85" textLength="11.75" lengthAdjust="spacingAndGlyphs" fill="#231f20">Pre</text>
<text x="279.25" y="424" font-size="7.46" textLength="18.04" lengthAdjust="spacingAndGlyphs" fill="#231f20">Peak</text>
<text x="303.52" y="424" font-size="7.74" textLength="4.76" lengthAdjust="spacingAndGlyphs" fill="#231f20">2</text>
<text x="321.38" y="424" font-size="7.74" textLength="4.69" lengthAdjust="spacingAndGlyphs" fill="#231f20">3</text>
<text x="338.91" y="424" font-size="7.74" textLength="4.94" lengthAdjust="spacingAndGlyphs" fill="#231f20">6</text>
<text x="356.54" y="424" font-size="7.74" textLength="4.94" lengthAdjust="spacingAndGlyphs" fill="#231f20">9</text>
<text x="371.94" y="424" font-size="7.74" textLength="9.7" lengthAdjust="spacingAndGlyphs" fill="#231f20">12</text>
<text x="278.29" y="432.9" font-size="7.46" textLength="20.23" lengthAdjust="spacingAndGlyphs" fill="#231f20">(wk4)</text>
<line x1="308.6" y1="430.6" x2="375.6" y2="430.6" stroke="#444" stroke-width="1.2"/>
<text x="306.57" y="439.4" font-size="7.73" textLength="70.93" lengthAdjust="spacingAndGlyphs" fill="#231f20">Months post infusion</text>
<text x="339.37" y="387.2" font-size="7.18" textLength="28.17" lengthAdjust="spacingAndGlyphs" fill="#231f20">Relapse</text>
<text x="372.56" y="408.5" font-size="5.67" textLength="9.56" lengthAdjust="spacingAndGlyphs" fill="#231f20">ND</text>
<line x1="353.8" y1="391.5" x2="353.8" y2="407.4" stroke="#111" stroke-width="1"/>
<path d="M351.6 406.6L356 406.6L353.8 410.4Z" fill="#111"/>
<rect x="406.1" y="338.8" width="10.2" height="4.7" fill="#c8102e"/>
<text x="419.79" y="343.1" font-size="7.12" textLength="13.79" lengthAdjust="spacingAndGlyphs" fill="#231f20">AFP</text>
<rect x="406.1" y="348.4" width="10.2" height="4.7" fill="#d5546b"/>
<text x="419.16" y="352.7" font-size="7.12" textLength="16.12" lengthAdjust="spacingAndGlyphs" fill="#231f20">MA1</text>
<rect x="406.1" y="358" width="10.2" height="4.7" fill="#eaa3b3"/>
<text x="419.16" y="362.3" font-size="7.02" textLength="21.15" lengthAdjust="spacingAndGlyphs" fill="#231f20">MA2B</text>
<rect x="406.1" y="367.6" width="10.2" height="4.7" fill="#fb8c10"/>
<text x="419.12" y="371.9" font-size="7.02" textLength="16.94" lengthAdjust="spacingAndGlyphs" fill="#231f20">MA3</text>
<rect x="406.1" y="377.2" width="10.2" height="4.7" fill="#fbb922"/>
<text x="419.18" y="381.5" font-size="7.02" textLength="31.44" lengthAdjust="spacingAndGlyphs" fill="#231f20">MAGEA4</text>
<rect x="461.1" y="338.8" width="10.1" height="4.7" fill="#fdc086"/>
<text x="474.2" y="343.1" font-size="7.12" textLength="24.55" lengthAdjust="spacingAndGlyphs" fill="#231f20">MART1</text>
<rect x="461.1" y="348.4" width="10.1" height="4.7" fill="#fcc74e"/>
<text x="474.18" y="352.7" font-size="7.02" textLength="15.87" lengthAdjust="spacingAndGlyphs" fill="#231f20">MC1</text>
<rect x="461.1" y="358" width="10.1" height="4.7" fill="#fcd98c"/>
<text x="474.23" y="362.3" font-size="7.02" textLength="28.3" lengthAdjust="spacingAndGlyphs" fill="#231f20">NYESO1</text>
<rect x="461.1" y="367.6" width="10.1" height="4.7" fill="#fde8c4"/>
<text x="474.5" y="371.9" font-size="7.02" textLength="16.83" lengthAdjust="spacingAndGlyphs" fill="#231f20">SSX2</text>
<line x1="46.3" y1="560.6" x2="49.3" y2="560.6" stroke="#231f20" stroke-width="1"/>
<text x="38.63" y="563.1" font-size="7.5" textLength="4.59" lengthAdjust="spacingAndGlyphs" fill="#231f20">0</text>
<line x1="46.3" y1="548.2" x2="49.3" y2="548.2" stroke="#231f20" stroke-width="1"/>
<text x="34.04" y="550.7" font-size="7.5" textLength="9.18" lengthAdjust="spacingAndGlyphs" fill="#231f20">20</text>
<line x1="46.3" y1="535.8" x2="49.3" y2="535.8" stroke="#231f20" stroke-width="1"/>
<text x="34.04" y="538.3" font-size="7.5" textLength="9.18" lengthAdjust="spacingAndGlyphs" fill="#231f20">40</text>
<line x1="46.3" y1="523.4" x2="49.3" y2="523.4" stroke="#231f20" stroke-width="1"/>
<text x="34.04" y="525.9" font-size="7.5" textLength="9.18" lengthAdjust="spacingAndGlyphs" fill="#231f20">60</text>
<line x1="46.3" y1="511" x2="49.3" y2="511" stroke="#231f20" stroke-width="1"/>
<text x="34.04" y="513.5" font-size="7.5" textLength="9.18" lengthAdjust="spacingAndGlyphs" fill="#231f20">80</text>
<line x1="46.3" y1="498.6" x2="49.3" y2="498.6" stroke="#231f20" stroke-width="1"/>
<text x="29.45" y="501.1" font-size="7.5" textLength="13.76" lengthAdjust="spacingAndGlyphs" fill="#231f20">100</text>
<line x1="46.3" y1="486.2" x2="49.3" y2="486.2" stroke="#231f20" stroke-width="1"/>
<text x="29.45" y="488.7" font-size="7.5" textLength="13.76" lengthAdjust="spacingAndGlyphs" fill="#231f20">120</text>
<rect x="72.9" y="559.24" width="11" height="1.36" fill="#3bb54a"/>
<rect x="108.4" y="555.89" width="11" height="4.71" fill="#145082"/>
<rect x="108.4" y="555.27" width="11" height="0.62" fill="#3bb54a"/>
<rect x="126.1" y="555.27" width="11" height="5.33" fill="#145082"/>
<rect x="126.1" y="555.02" width="11" height="0.25" fill="#33a9e2"/>
<rect x="143.8" y="558" width="11" height="2.6" fill="#145082"/>
<line x1="87.1" y1="482.5" x2="87.1" y2="557.7" stroke="#666" stroke-width="2" stroke-dasharray="2 2.1"/>
<line x1="49.3" y1="482.8" x2="49.3" y2="561.1" stroke="#231f20" stroke-width="1.1"/>
<line x1="48.8" y1="560.6" x2="178.5" y2="560.6" stroke="#231f20" stroke-width="1.1"/>
<line x1="60.5" y1="560.6" x2="60.5" y2="563.4" stroke="#231f20" stroke-width="1"/>
<line x1="78.4" y1="560.6" x2="78.4" y2="563.4" stroke="#231f20" stroke-width="1"/>
<line x1="96.2" y1="560.6" x2="96.2" y2="563.4" stroke="#231f20" stroke-width="1"/>
<line x1="113.9" y1="560.6" x2="113.9" y2="563.4" stroke="#231f20" stroke-width="1"/>
<line x1="131.6" y1="560.6" x2="131.6" y2="563.4" stroke="#231f20" stroke-width="1"/>
<line x1="149.3" y1="560.6" x2="149.3" y2="563.4" stroke="#231f20" stroke-width="1"/>
<line x1="167" y1="560.6" x2="167" y2="563.4" stroke="#231f20" stroke-width="1"/>
<text transform="translate(27.8 542.9) rotate(-90)" x="-0.32" y="0" font-size="9.8" textLength="19.67" lengthAdjust="spacingAndGlyphs" fill="#231f20">SFC<tspan stroke-width="0.5">/</tspan>2</text>
<text transform="translate(27.5 522.7) rotate(-90)" x="-0.74" y="0" font-size="10.6" textLength="6.18" lengthAdjust="spacingAndGlyphs" fill="#231f20">×</text>
<text transform="translate(27.8 516) rotate(-90)" x="-0.56" y="0" font-size="9.6" textLength="8.25" lengthAdjust="spacingAndGlyphs" fill="#231f20">10</text>
<text transform="translate(24.3 508) rotate(-90)" x="-0.25" y="0" font-size="7.4" textLength="3.52" lengthAdjust="spacingAndGlyphs" fill="#231f20">5</text>
<text x="96.7" y="476.4" font-size="8.7" textLength="34.87" lengthAdjust="spacingAndGlyphs" fill="#231f20">Targeted</text>
<rect x="132.2" y="487.2" width="10.3" height="4.9" fill="#145082"/>
<text x="145.22" y="491.7" font-size="6.98" textLength="25.28" lengthAdjust="spacingAndGlyphs" fill="#231f20">PRAME</text>
<rect x="132.2" y="496.85" width="10.3" height="4.9" fill="#33a9e2"/>
<text x="145.46" y="501.35" font-size="6.63" textLength="26.22" lengthAdjust="spacingAndGlyphs" fill="#231f20">Survivin</text>
<rect x="132.2" y="506.5" width="10.3" height="4.9" fill="#3bb54a"/>
<text x="145.77" y="511" font-size="6.98" textLength="15.08" lengthAdjust="spacingAndGlyphs" fill="#231f20">WT1</text>
<text x="55.08" y="572.8" font-size="7.85" textLength="11.75" lengthAdjust="spacingAndGlyphs" fill="#231f20">Pre</text>
<text x="69.25" y="572.8" font-size="7.46" textLength="18.04" lengthAdjust="spacingAndGlyphs" fill="#231f20">Peak</text>
<text x="93.52" y="572.8" font-size="7.74" textLength="4.76" lengthAdjust="spacingAndGlyphs" fill="#231f20">2</text>
<text x="111.38" y="572.8" font-size="7.74" textLength="4.69" lengthAdjust="spacingAndGlyphs" fill="#231f20">3</text>
<text x="128.91" y="572.8" font-size="7.74" textLength="4.94" lengthAdjust="spacingAndGlyphs" fill="#231f20">6</text>
<text x="146.44" y="572.8" font-size="7.74" textLength="4.94" lengthAdjust="spacingAndGlyphs" fill="#231f20">9</text>
<text x="161.74" y="572.8" font-size="7.74" textLength="9.7" lengthAdjust="spacingAndGlyphs" fill="#231f20">12</text>
<text x="68.29" y="581.9" font-size="7.46" textLength="20.23" lengthAdjust="spacingAndGlyphs" fill="#231f20">(wk4)</text>
<line x1="98.3" y1="578.8" x2="165.3" y2="578.8" stroke="#444" stroke-width="1.2"/>
<text x="94.13" y="588.8" font-size="7.73" textLength="75.09" lengthAdjust="spacingAndGlyphs" fill="#231f20">Months post infusion</text>
<text x="145.17" y="537.7" font-size="7.46" textLength="28.28" lengthAdjust="spacingAndGlyphs" fill="#231f20">Relapse</text>
<line x1="159.7" y1="541.8" x2="159.7" y2="556.8" stroke="#111" stroke-width="1"/>
<path d="M157.5 556L161.9 556L159.7 559.8Z" fill="#111"/>
<line x1="256.3" y1="560.4" x2="259.3" y2="560.4" stroke="#231f20" stroke-width="1"/>
<text x="248.43" y="562.9" font-size="7.5" textLength="4.59" lengthAdjust="spacingAndGlyphs" fill="#231f20">0</text>
<line x1="256.3" y1="545.8" x2="259.3" y2="545.8" stroke="#231f20" stroke-width="1"/>
<text x="243.84" y="548.3" font-size="7.5" textLength="9.18" lengthAdjust="spacingAndGlyphs" fill="#231f20">50</text>
<line x1="256.3" y1="531.2" x2="259.3" y2="531.2" stroke="#231f20" stroke-width="1"/>
<text x="239.25" y="533.7" font-size="7.5" textLength="13.76" lengthAdjust="spacingAndGlyphs" fill="#231f20">100</text>
<line x1="256.3" y1="516.6" x2="259.3" y2="516.6" stroke="#231f20" stroke-width="1"/>
<text x="239.25" y="519.1" font-size="7.5" textLength="13.76" lengthAdjust="spacingAndGlyphs" fill="#231f20">150</text>
<line x1="256.3" y1="502" x2="259.3" y2="502" stroke="#231f20" stroke-width="1"/>
<text x="239.25" y="504.5" font-size="7.5" textLength="13.76" lengthAdjust="spacingAndGlyphs" fill="#231f20">200</text>
<line x1="256.3" y1="487.4" x2="259.3" y2="487.4" stroke="#231f20" stroke-width="1"/>
<text x="239.25" y="489.9" font-size="7.5" textLength="13.76" lengthAdjust="spacingAndGlyphs" fill="#231f20">250</text>
<rect x="282.9" y="558.36" width="11" height="2.04" fill="#c8102e"/>
<rect x="282.9" y="557.63" width="11" height="0.73" fill="#fb8c10"/>
<rect x="300.7" y="555.73" width="11" height="4.67" fill="#d5546b"/>
<rect x="300.7" y="554.27" width="11" height="1.46" fill="#fcc74e"/>
<rect x="318.4" y="550.76" width="11" height="9.64" fill="#c8102e"/>
<rect x="318.4" y="546.09" width="11" height="4.67" fill="#fb8c10"/>
<rect x="318.4" y="531.2" width="11" height="14.89" fill="#fcc74e"/>
<rect x="336.1" y="556.6" width="11" height="3.8" fill="#d5546b"/>
<rect x="336.1" y="548.14" width="11" height="8.47" fill="#eaa3b3"/>
<rect x="336.1" y="543.76" width="11" height="4.38" fill="#fb8c10"/>
<rect x="353.9" y="556.02" width="11" height="4.38" fill="#eaa3b3"/>
<rect x="353.9" y="543.46" width="11" height="12.56" fill="#c8102e"/>
<rect x="353.9" y="536.46" width="11" height="7.01" fill="#fcc74e"/>
<rect x="371.7" y="560.22" width="11" height="0.18" fill="#fcc74e"/>
<line x1="297.2" y1="481.5" x2="297.2" y2="558.5" stroke="#555" stroke-width="1.8" stroke-dasharray="2 2.1"/>
<line x1="259.3" y1="482.5" x2="259.3" y2="560.9" stroke="#231f20" stroke-width="1.1"/>
<line x1="258.8" y1="560.4" x2="388.8" y2="560.4" stroke="#231f20" stroke-width="1.1"/>
<line x1="270.6" y1="560.4" x2="270.6" y2="563.2" stroke="#231f20" stroke-width="1"/>
<line x1="288.4" y1="560.4" x2="288.4" y2="563.2" stroke="#231f20" stroke-width="1"/>
<line x1="306.2" y1="560.4" x2="306.2" y2="563.2" stroke="#231f20" stroke-width="1"/>
<line x1="323.9" y1="560.4" x2="323.9" y2="563.2" stroke="#231f20" stroke-width="1"/>
<line x1="341.6" y1="560.4" x2="341.6" y2="563.2" stroke="#231f20" stroke-width="1"/>
<line x1="359.4" y1="560.4" x2="359.4" y2="563.2" stroke="#231f20" stroke-width="1"/>
<line x1="377.2" y1="560.4" x2="377.2" y2="563.2" stroke="#231f20" stroke-width="1"/>
<text transform="translate(233.3 542.9) rotate(-90)" x="-0.32" y="0" font-size="9.8" textLength="19.56" lengthAdjust="spacingAndGlyphs" fill="#231f20">SFC<tspan stroke-width="0.5">/</tspan>2</text>
<text transform="translate(233 522.8) rotate(-90)" x="-0.74" y="0" font-size="10.6" textLength="6.18" lengthAdjust="spacingAndGlyphs" fill="#231f20">×</text>
<text transform="translate(233.3 516.1) rotate(-90)" x="-0.56" y="0" font-size="9.6" textLength="8.25" lengthAdjust="spacingAndGlyphs" fill="#231f20">10</text>
<text transform="translate(229.8 508.1) rotate(-90)" x="-0.25" y="0" font-size="7.4" textLength="3.52" lengthAdjust="spacingAndGlyphs" fill="#231f20">5</text>
<text x="296.66" y="476.6" font-size="8.43" textLength="55.04" lengthAdjust="spacingAndGlyphs" fill="#231f20">Non-Targeted</text>
<text x="265.18" y="572.7" font-size="7.85" textLength="11.75" lengthAdjust="spacingAndGlyphs" fill="#231f20">Pre</text>
<text x="279.25" y="572.7" font-size="7.46" textLength="18.04" lengthAdjust="spacingAndGlyphs" fill="#231f20">Peak</text>
<text x="303.52" y="572.7" font-size="7.74" textLength="4.76" lengthAdjust="spacingAndGlyphs" fill="#231f20">2</text>
<text x="321.38" y="572.7" font-size="7.74" textLength="4.69" lengthAdjust="spacingAndGlyphs" fill="#231f20">3</text>
<text x="338.91" y="572.7" font-size="7.74" textLength="4.94" lengthAdjust="spacingAndGlyphs" fill="#231f20">6</text>
<text x="356.54" y="572.7" font-size="7.74" textLength="4.94" lengthAdjust="spacingAndGlyphs" fill="#231f20">9</text>
<text x="371.94" y="572.7" font-size="7.74" textLength="9.7" lengthAdjust="spacingAndGlyphs" fill="#231f20">12</text>
<text x="278.29" y="581.9" font-size="7.46" textLength="20.23" lengthAdjust="spacingAndGlyphs" fill="#231f20">(wk4)</text>
<line x1="308.3" y1="578.8" x2="375.6" y2="578.8" stroke="#444" stroke-width="1.2"/>
<text x="306.26" y="588.8" font-size="7.73" textLength="71.23" lengthAdjust="spacingAndGlyphs" fill="#231f20">Months post infusion</text>
<text x="355.87" y="527" font-size="7.6" textLength="27.97" lengthAdjust="spacingAndGlyphs" fill="#231f20">Relapse</text>
<line x1="369.7" y1="530" x2="369.7" y2="556.8" stroke="#111" stroke-width="1"/>
<path d="M367.5 556L371.9 556L369.7 559.8Z" fill="#111"/>
<rect x="406.1" y="488.8" width="10.2" height="4.7" fill="#c8102e"/>
<text x="419.79" y="493.1" font-size="7.12" textLength="13.79" lengthAdjust="spacingAndGlyphs" fill="#231f20">AFP</text>
<rect x="406.1" y="498.4" width="10.2" height="4.7" fill="#d5546b"/>
<text x="419.16" y="502.7" font-size="7.12" textLength="16.12" lengthAdjust="spacingAndGlyphs" fill="#231f20">MA1</text>
<rect x="406.1" y="508" width="10.2" height="4.7" fill="#eaa3b3"/>
<text x="419.16" y="512.3" font-size="7.02" textLength="21.15" lengthAdjust="spacingAndGlyphs" fill="#231f20">MA2B</text>
<rect x="406.1" y="517.6" width="10.2" height="4.7" fill="#fb8c10"/>
<text x="419.12" y="521.9" font-size="7.02" textLength="16.94" lengthAdjust="spacingAndGlyphs" fill="#231f20">MA3</text>
<rect x="406.1" y="527.2" width="10.2" height="4.7" fill="#fbb922"/>
<text x="419.18" y="531.5" font-size="7.02" textLength="31.44" lengthAdjust="spacingAndGlyphs" fill="#231f20">MAGEA4</text>
<rect x="461.1" y="488.8" width="10.1" height="4.7" fill="#fdc086"/>
<text x="474.2" y="493.1" font-size="7.12" textLength="24.55" lengthAdjust="spacingAndGlyphs" fill="#231f20">MART1</text>
<rect x="461.1" y="498.4" width="10.1" height="4.7" fill="#fcc74e"/>
<text x="474.18" y="502.7" font-size="7.02" textLength="15.87" lengthAdjust="spacingAndGlyphs" fill="#231f20">MC1</text>
<rect x="461.1" y="508" width="10.1" height="4.7" fill="#fcd98c"/>
<text x="474.23" y="512.3" font-size="7.02" textLength="28.3" lengthAdjust="spacingAndGlyphs" fill="#231f20">NYESO1</text>
<rect x="461.1" y="517.6" width="10.1" height="4.7" fill="#fde8c4"/>
<text x="474.5" y="521.9" font-size="7.02" textLength="16.83" lengthAdjust="spacingAndGlyphs" fill="#231f20">SSX2</text>
<rect x="0.5" y="0.5" width="519" height="595" fill="none" stroke="#000" stroke-width="1.1"/>
</svg>
</body></html>
